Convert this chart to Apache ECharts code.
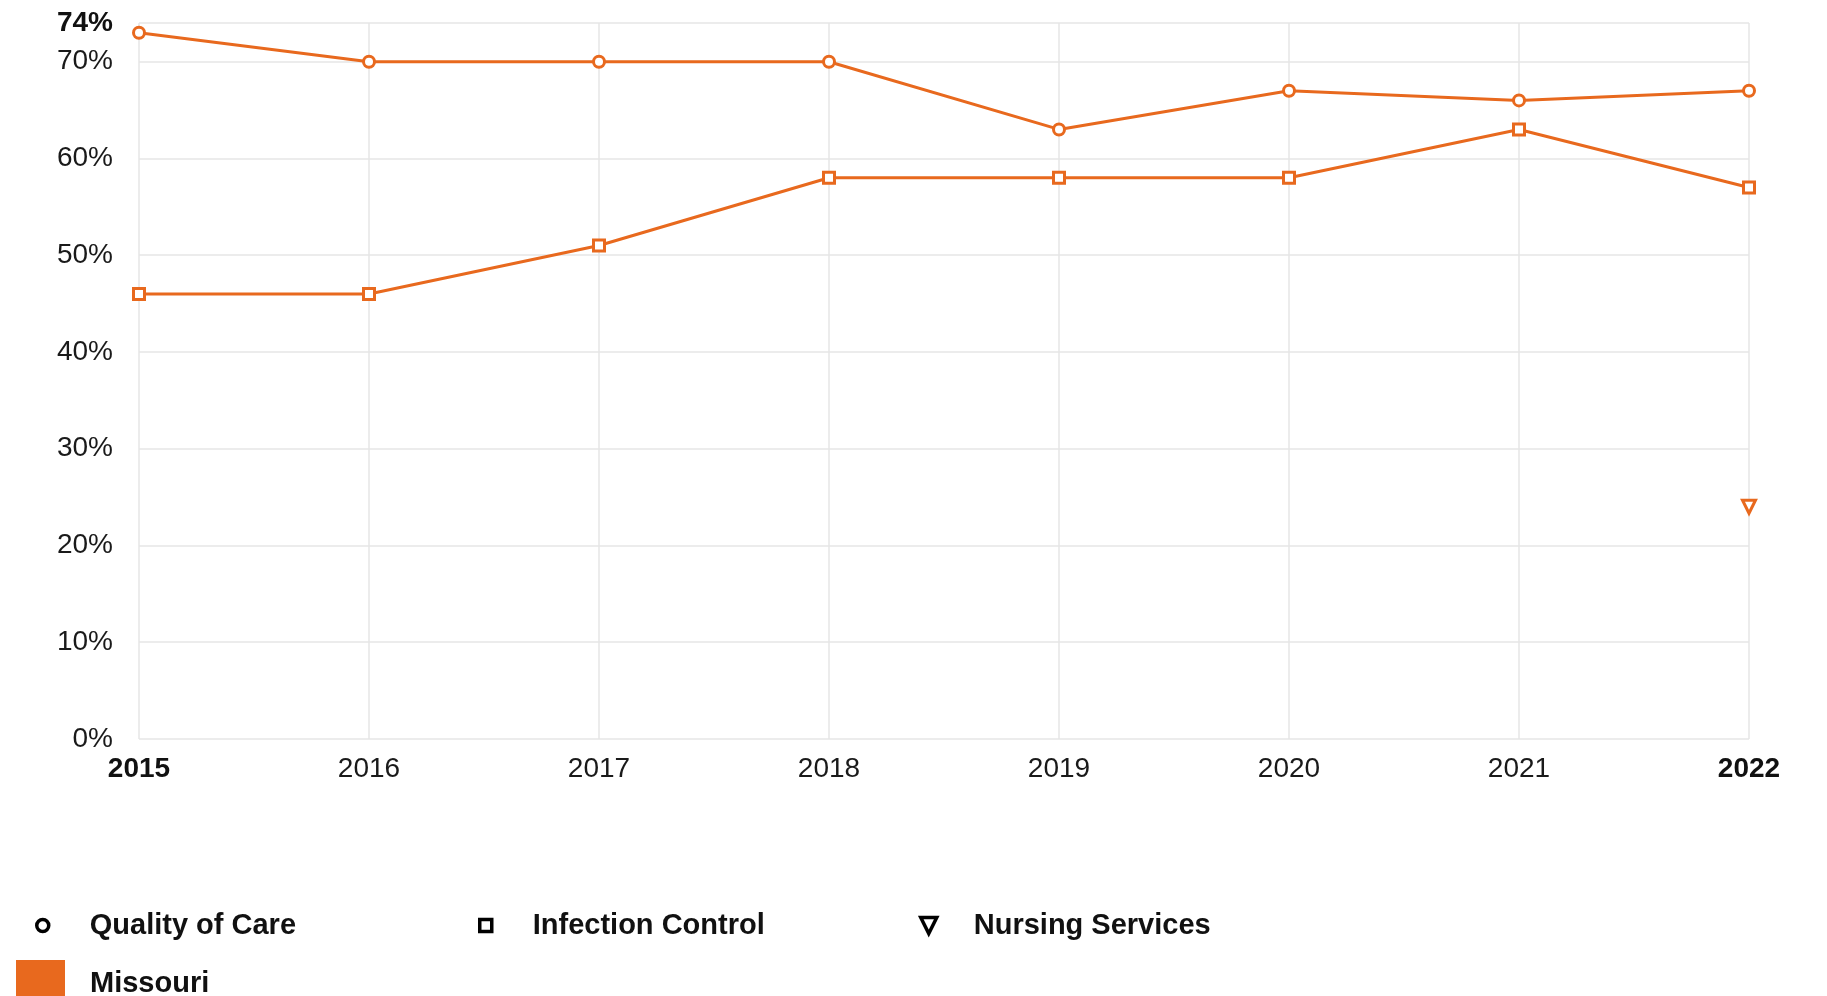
<!DOCTYPE html>
<html>
<head>
<meta charset="utf-8">
<script src="https://cdn.jsdelivr.net/npm/echarts@6/dist/echarts.min.js"></script>
<style>
html,body{margin:0;padding:0;background:#fff;}
#c{width:1827px;height:996px;}
</style>
</head>
<body>
<div id="c"></div>
<script>
const years = ['2015','2016','2017','2018','2019','2020','2021','2022'];
const qualityOfCare = [73, 70, 70, 70, 63, 67, 66, 67];
const infectionControl = [46, 46, 51, 58, 58, 58, 63, 57];
const nursingServices = [null, null, null, null, null, null, null, 24];
const boldYears = ['2015', '2022'];
const yMax = 74;

const ORANGE = '#e8691e';
const FONT = '"Liberation Sans", Arial, sans-serif';

const chart = echarts.init(document.getElementById('c'));

function lineSeries(name, data, symbol, size, rotate) {
  return {
    name, type: 'line', data,
    symbol, symbolSize: size, symbolRotate: rotate || 0,
    showAllSymbol: true, connectNulls: false,
    lineStyle: {color: ORANGE, width: 3},
    itemStyle: {color: '#fff', borderColor: ORANGE, borderWidth: 3},
    emphasis: {disabled: true},
    z: 3
  };
}

function seriesLegend(name, icon, left, size) {
  return {
    left: left, top: 911, padding: 0,
    itemWidth: size, itemHeight: size,
    selectedMode: false,
    textStyle: {fontFamily: FONT, fontSize: 29, fontWeight: 'bold', color: '#111',
                padding: [0, 0, 0, 48 - size]},
    data: [{name: name, icon: icon,
            itemStyle: {color: '#fff', borderColor: '#000', borderWidth: 3.5}}]
  };
}

chart.setOption({
  animation: false,
  backgroundColor: '#fff',
  grid: {left: 139, right: 78, top: 23, bottom: 257},
  xAxis: {
    type: 'category', data: years, boundaryGap: false,
    axisLine: {show: false}, axisTick: {show: false},
    splitLine: {show: true, lineStyle: {color: '#e6e6e6', width: 1.5}},
    axisLabel: {
      margin: 16, fontFamily: FONT, fontSize: 28, color: '#1a1a1a',
      formatter: v => boldYears.includes(v) ? '{b|' + v + '}' : v,
      rich: {b: {fontFamily: FONT, fontSize: 28, fontWeight: 'bold', color: '#111'}}
    }
  },
  yAxis: {
    type: 'value', min: 0, max: yMax, interval: 10,
    axisLine: {show: false}, axisTick: {show: false},
    splitLine: {show: true, lineStyle: {color: '#e6e6e6', width: 1.5}},
    axisLabel: {
      margin: 26, fontFamily: FONT, fontSize: 28, color: '#1a1a1a',
      formatter: v => v === yMax ? '{b|' + v + '%}' : v + '%',
      rich: {b: {fontFamily: FONT, fontSize: 28, fontWeight: 'bold', color: '#111'}}
    }
  },
  legend: [
    seriesLegend('Quality of Care', 'circle', 35, 12),
    seriesLegend('Infection Control', 'rect', 478, 12),
    seriesLegend('Nursing Services', 'path://M0,0 L10,0 L5,10 Z', 919, 16),
    {
      left: 16, top: 960, padding: 0,
      itemWidth: 49, itemHeight: 48,
      selectedMode: false,
      textStyle: {fontFamily: FONT, fontSize: 29, fontWeight: 'bold', color: '#111',
                  padding: [0, 0, 0, 20]},
      data: [{name: 'Missouri', icon: 'rect', itemStyle: {color: ORANGE, borderWidth: 0}}]
    }
  ],
  series: [
    lineSeries('Quality of Care', qualityOfCare, 'circle', 11),
    lineSeries('Infection Control', infectionControl, 'rect', 11),
    lineSeries('Nursing Services', nursingServices, 'triangle', 13, 180),
    {name: 'Missouri', type: 'line', data: [], itemStyle: {color: ORANGE}}
  ]
});
</script>
</body>
</html>
